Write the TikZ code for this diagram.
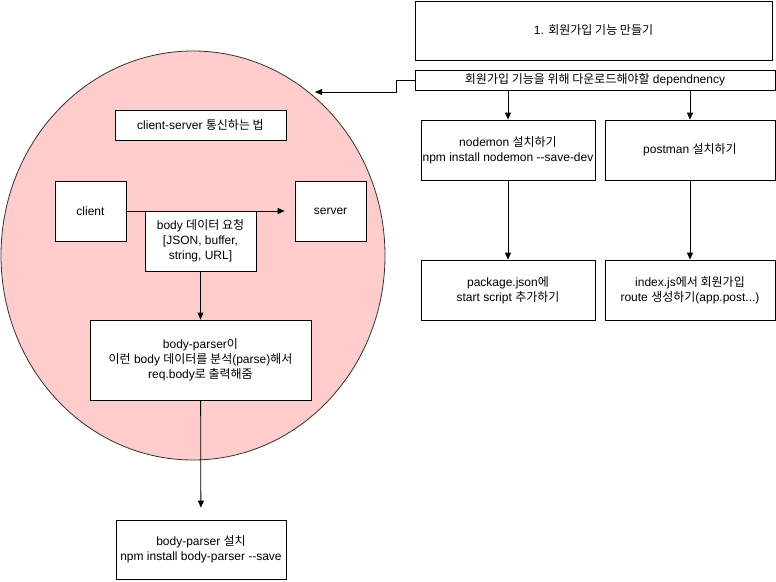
\documentclass[tikz,border=0pt]{standalone}
\usepackage{fontspec}
\setmainfont{Liberation Sans}[Ligatures=TeXOff]
\newfontfamily\krfont{Noto Sans CJK KR}
\newcommand{\ko}[1]{{\krfont #1}}
\usepackage{tikz}
\usetikzlibrary{arrows.meta}

\begin{document}
\begin{tikzpicture}[x=1pt,y=-1pt,
    box/.style={draw,thick,fill=white,align=center,inner sep=0pt,
      font=\fontsize{12}{15}\selectfont},
    arr/.style={thick,-{Triangle[length=7pt,width=6pt]}}
    ]
  \useasboundingbox (0,0) rectangle (776,581);
  \fill[fill=red!20,draw=black!80,thick] (193,255.5) ellipse [x radius=192, y radius=204.5];

  \node[box,minimum width=357,minimum height=59] (goal)    at (593.5,30.5) {1. \ko{회원가입 기능 만들기}};
  \node[box,minimum width=360,minimum height=20] (deps)    at (595,80)    {\ko{회원가입 기능을 위해 다운로드해야할} dependnency};
  \node[box,minimum width=174,minimum height=60] (nodemon) at (508,150)   {nodemon \ko{설치하기}\\npm install nodemon --save-dev};
  \node[box,minimum width=170,minimum height=60] (postman) at (690,150)   {postman \ko{설치하기}};
  \node[box,minimum width=174,minimum height=60] (pkg)     at (508,290)   {package.json\ko{에}\\start script \ko{추가하기}};
  \node[box,minimum width=170,minimum height=60] (route)   at (690,290)   {index.js\ko{에서 회원가입}\\route \ko{생성하기}(app.post...)};

  \node[box,minimum width=171,minimum height=30] (howto)   at (200.5,125) {client-server \ko{통신하는 법}};
  \node[box,minimum width=71,minimum height=60]  (client)  at (90.5,211)  {client};
  \node[box,minimum width=71,minimum height=60]  (server)  at (330.5,211) {server};
  \draw[arr,shorten >=10pt] (client) -- (server);
  \node[box,minimum width=111,minimum height=60] (body)    at (200.5,241) {body \ko{데이터 요청}\\{[JSON, buffer,}\\string, URL]};
  \node[box,minimum width=221,minimum height=80] (parser)  at (200.5,360) {body-parser\ko{이}\\\ko{이런} body \ko{데이터를 분석}(parse)\ko{해서}\\req.body\ko{로 출력해줌}};
  \node[box,minimum width=170,minimum height=59] (install) at (201,549.5) {body-parser \ko{설치}\\npm install body-parser --save};

  \coordinate (tip) at (315,92);
  \draw[arr] (deps.west) -- ++(-18,0) |- (tip);
  \draw[arr] (nodemon.north |- deps.south) -- (nodemon.north);
  \draw[arr] (postman.north |- deps.south) -- (postman.north);
  \draw[arr] (nodemon) -- (pkg);
  \draw[arr] (postman) -- (route);
  \draw[arr] (body) -- (parser);
  \draw[arr,shorten >=12pt] (parser) -- (install);
\end{tikzpicture}
\end{document}
